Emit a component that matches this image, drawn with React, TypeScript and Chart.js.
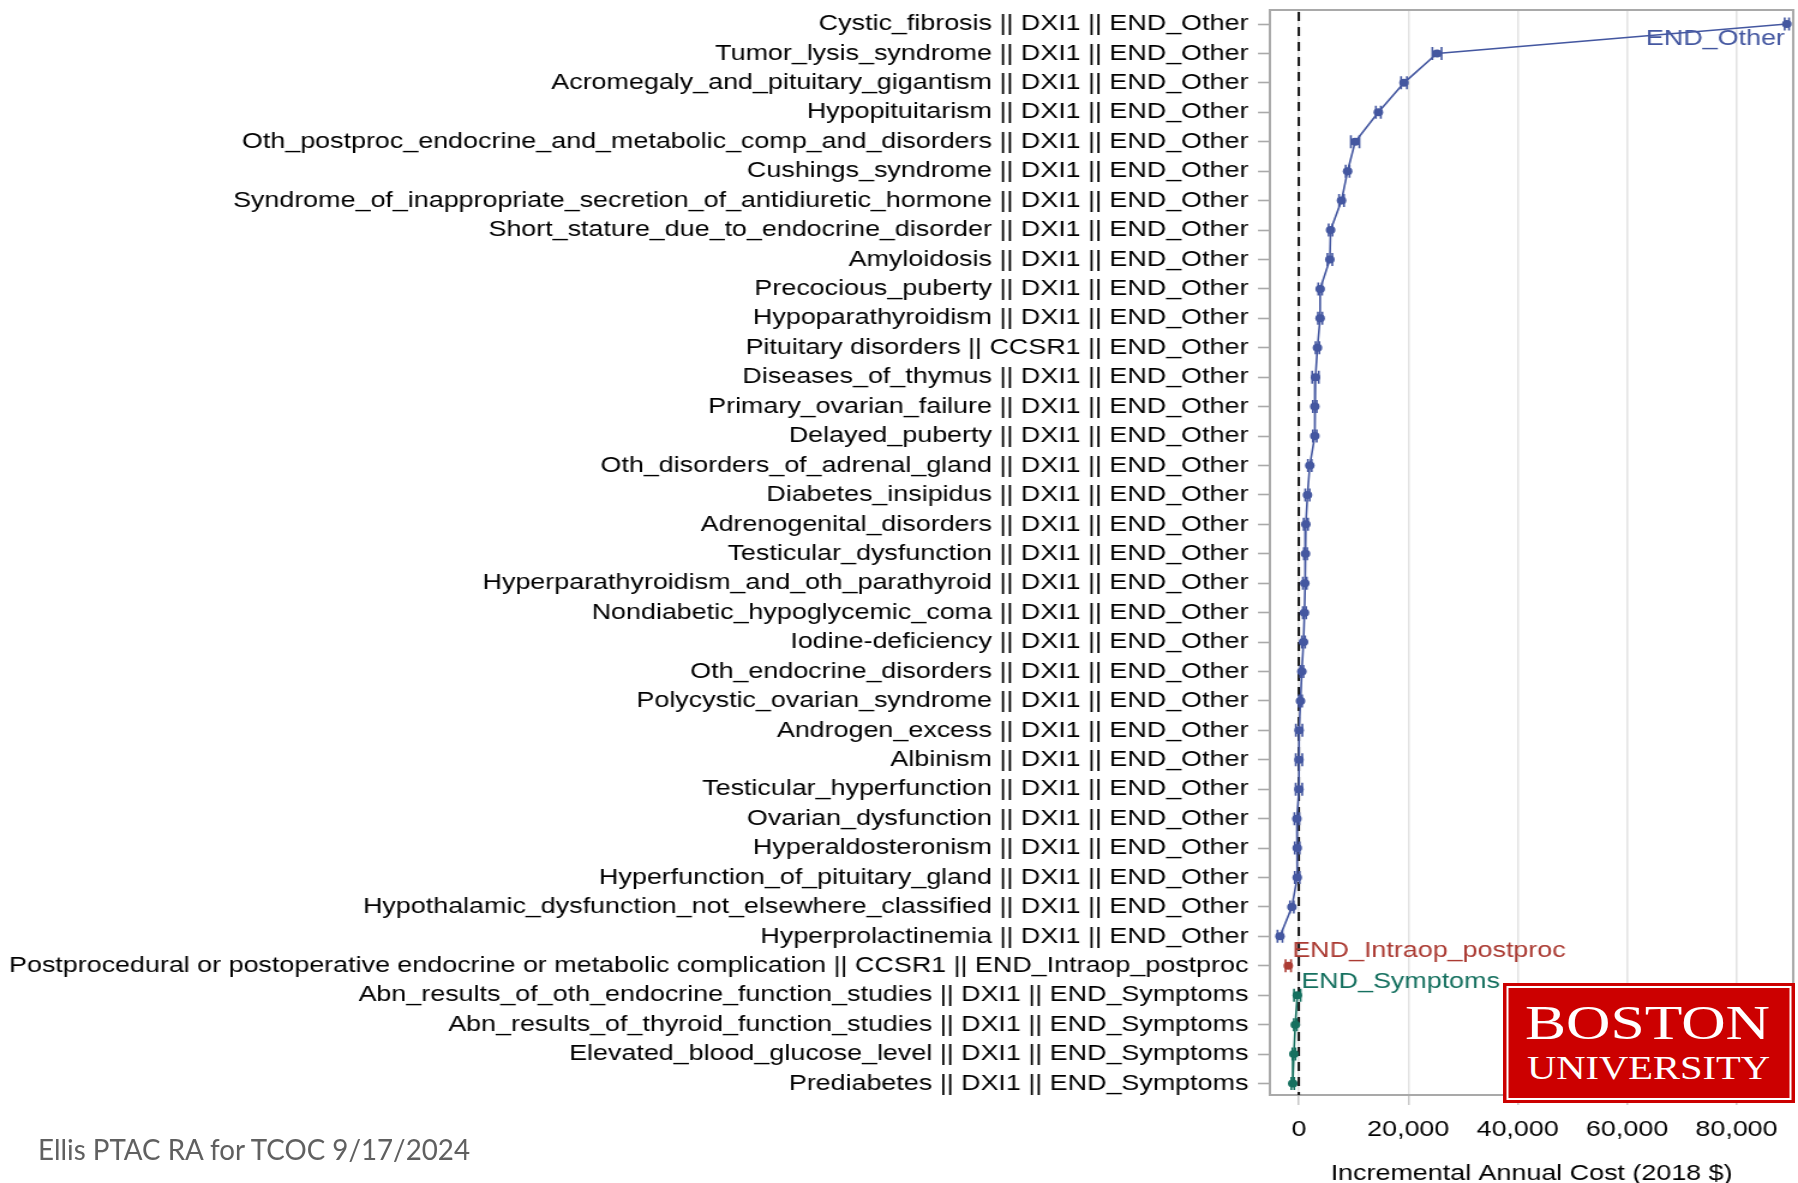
import React, { useEffect, useRef } from 'react';
import { Chart, registerables } from 'chart.js';

Chart.register(...registerables);

// ---------------- data ----------------
const categories: string[] = [
  'Cystic_fibrosis || DXI1 || END_Other',
  'Tumor_lysis_syndrome || DXI1 || END_Other',
  'Acromegaly_and_pituitary_gigantism || DXI1 || END_Other',
  'Hypopituitarism || DXI1 || END_Other',
  'Oth_postproc_endocrine_and_metabolic_comp_and_disorders || DXI1 || END_Other',
  'Cushings_syndrome || DXI1 || END_Other',
  'Syndrome_of_inappropriate_secretion_of_antidiuretic_hormone || DXI1 || END_Other',
  'Short_stature_due_to_endocrine_disorder || DXI1 || END_Other',
  'Amyloidosis || DXI1 || END_Other',
  'Precocious_puberty || DXI1 || END_Other',
  'Hypoparathyroidism || DXI1 || END_Other',
  'Pituitary disorders || CCSR1 || END_Other',
  'Diseases_of_thymus || DXI1 || END_Other',
  'Primary_ovarian_failure || DXI1 || END_Other',
  'Delayed_puberty || DXI1 || END_Other',
  'Oth_disorders_of_adrenal_gland || DXI1 || END_Other',
  'Diabetes_insipidus || DXI1 || END_Other',
  'Adrenogenital_disorders || DXI1 || END_Other',
  'Testicular_dysfunction || DXI1 || END_Other',
  'Hyperparathyroidism_and_oth_parathyroid || DXI1 || END_Other',
  'Nondiabetic_hypoglycemic_coma || DXI1 || END_Other',
  'Iodine-deficiency || DXI1 || END_Other',
  'Oth_endocrine_disorders || DXI1 || END_Other',
  'Polycystic_ovarian_syndrome || DXI1 || END_Other',
  'Androgen_excess || DXI1 || END_Other',
  'Albinism || DXI1 || END_Other',
  'Testicular_hyperfunction || DXI1 || END_Other',
  'Ovarian_dysfunction || DXI1 || END_Other',
  'Hyperaldosteronism || DXI1 || END_Other',
  'Hyperfunction_of_pituitary_gland || DXI1 || END_Other',
  'Hypothalamic_dysfunction_not_elsewhere_classified || DXI1 || END_Other',
  'Hyperprolactinemia || DXI1 || END_Other',
  'Postprocedural or postoperative endocrine or metabolic complication || CCSR1 || END_Intraop_postproc',
  'Abn_results_of_oth_endocrine_function_studies || DXI1 || END_Symptoms',
  'Abn_results_of_thyroid_function_studies || DXI1 || END_Symptoms',
  'Elevated_blood_glucose_level || DXI1 || END_Symptoms',
  'Prediabetes || DXI1 || END_Symptoms',
];

// incremental annual cost estimates (2018 $)
const endOtherValues: number[] = [
  89200, 25250, 19220, 14530, 10290, 8910, 7800, 5800, 5670, 3900,
  3890, 3400, 3040, 2920, 2920, 2000, 1580, 1280, 1220, 1090,
  1030, 850, 550, 300, 50, 30, 20, -360, -300, -300,
  -1270, -3450,
];
const endIntraopValues: number[] = [-1930];
const endSymptomsValues: number[] = [-280, -650, -910, -1110];

// half-widths of the confidence intervals, one per category row
const ciHalfWidths: number[] = [
  400, 840, 530, 450, 780, 350, 450, 350, 450, 350,
  400, 350, 600, 350, 350, 350, 400, 400, 300, 350,
  300, 300, 300, 300, 600, 600, 600, 450, 450, 450,
  350, 450, 500, 600, 270, 270, 270,
];

const xTickValues: number[] = [0, 20000, 40000, 60000, 80000];
const seriesNames: string[] = ['END_Other', 'END_Intraop_postproc', 'END_Symptoms'];
const seriesColors: string[] = ['#4457a0', '#ab3b33', '#15705f'];
const xAxisTitle = 'Incremental Annual Cost (2018 $)';
const footerText = 'Ellis PTAC RA for TCOC 9/17/2024';
const logoLines: string[] = ['BOSTON', 'UNIVERSITY'];

// ---------------- layout / style ----------------
const PAGE_W = 1798;
const PAGE_H = 1183;
const CW = 1498; // canvas drawn narrower, then stretched horizontally like the original picture
const S = PAGE_W / CW;
const FONT = "'Liberation Sans', Arial, sans-serif";
const FS = 22.4;
const AXIS_GREY = '#a9a9a9';

const errorBarPlugin = {
  id: 'errorBars',
  beforeDatasetsDraw(chart: any) {
    const { ctx, chartArea } = chart;
    const xs = chart.scales.x;
    // dashed zero reference line
    ctx.save();
    ctx.strokeStyle = '#111';
    ctx.lineWidth = 2;
    ctx.setLineDash([9, 6]);
    const x0 = xs.getPixelForValue(0);
    ctx.beginPath();
    ctx.moveTo(x0, chartArea.top + 2);
    ctx.lineTo(x0, chartArea.bottom);
    ctx.stroke();
    ctx.restore();

    // frame: top & right edges
    ctx.save();
    ctx.strokeStyle = AXIS_GREY;
    ctx.lineWidth = 2;
    ctx.beginPath();
    ctx.moveTo(chartArea.left, chartArea.top);
    ctx.lineTo(chartArea.right, chartArea.top);
    ctx.lineTo(chartArea.right, chartArea.bottom);
    ctx.stroke();
    ctx.restore();

    // error bars
    chart.data.datasets.forEach((ds: any, di: number) => {
      const meta = chart.getDatasetMeta(di);
      ctx.save();
      ctx.strokeStyle = ds.borderColor;
      ctx.lineWidth = 1.6;
      meta.data.forEach((pt: any, k: number) => {
        const d = ds.data[k];
        if (!d) return;
        const j = d.y;
        const lo = xs.getPixelForValue(d.x - ciHalfWidths[j]);
        const hi = xs.getPixelForValue(d.x + ciHalfWidths[j]);
        const y = pt.y;
        ctx.beginPath();
        ctx.moveTo(lo, y);
        ctx.lineTo(hi, y);
        ctx.moveTo(lo, y - 6.5);
        ctx.lineTo(lo, y + 6.5);
        ctx.moveTo(hi, y - 6.5);
        ctx.lineTo(hi, y + 6.5);
        ctx.stroke();
      });
      ctx.restore();
    });
  },
  afterDatasetsDraw(chart: any) {
    const { ctx } = chart;
    ctx.save();
    ctx.font = `${FS}px ${FONT}`;
    ctx.textBaseline = 'middle';
    // END_Other: below-left of its first point
    const m0 = chart.getDatasetMeta(0).data[0];
    ctx.fillStyle = seriesColors[0];
    ctx.textAlign = 'right';
    ctx.fillText(seriesNames[0], m0.x - 2 / S, m0.y + 15);
    // END_Intraop_postproc: above-right of its point
    const m1 = chart.getDatasetMeta(1).data[0];
    ctx.fillStyle = seriesColors[1];
    ctx.textAlign = 'left';
    ctx.fillText(seriesNames[1], m1.x + 4 / S, m1.y - 14.5);
    // END_Symptoms: above-right of its first point
    const m2 = chart.getDatasetMeta(2).data[0];
    ctx.fillStyle = seriesColors[2];
    ctx.fillText(seriesNames[2], m2.x + 4 / S, m2.y - 13);
    ctx.restore();
  },
};

function ChartCanvas() {
  const ref = useRef<HTMLCanvasElement | null>(null);
  useEffect(() => {
    if (!ref.current) return;
    const nOther = endOtherValues.length;
    const nIntra = endIntraopValues.length;
    const toPts = (vals: number[], start: number) => vals.map((v, i) => ({ x: v, y: start + i }));
    const mk = (data: { x: number; y: number }[], color: string) => ({
      data,
      borderColor: color,
      backgroundColor: color,
      pointBackgroundColor: color,
      pointBorderColor: color,
      pointRadius: 4,
      pointBorderWidth: 0,
      borderWidth: 1.6,
      fill: false,
      tension: 0,
    });
    const chart = new Chart(ref.current, {
      type: 'line',
      data: {
        datasets: [
          mk(toPts(endOtherValues, 0), seriesColors[0]),
          mk(toPts(endIntraopValues, nOther), seriesColors[1]),
          mk(toPts(endSymptomsValues, nOther + nIntra), seriesColors[2]),
        ],
      },
      options: {
        responsive: false,
        animation: false,
        indexAxis: 'y',
        layout: { padding: { top: 10, right: CW - 1796 / S, bottom: 0, left: 0 } },
        plugins: { legend: { display: false }, tooltip: { enabled: false } },
        scales: {
          y: {
            type: 'linear',
            reverse: true,
            min: -0.476,
            max: 36.39,
            afterBuildTicks: (s: any) => {
              s.ticks = categories.map((_, i) => ({ value: i }));
            },
            grid: {
              display: true,
              drawOnChartArea: false,
              drawTicks: true,
              tickLength: 10,
              tickColor: AXIS_GREY,
              tickWidth: 1.6,
            },
            border: { display: true, color: AXIS_GREY, width: 2 },
            ticks: {
              autoSkip: false,
              color: '#000',
              padding: 8,
              font: { family: FONT, size: FS },
              callback: (v: any) => categories[Math.round(Number(v))] ?? '',
            },
            afterFit: (s: any) => {
              s.width = 1270 / S;
              s.paddingTop = 0;
              s.paddingBottom = 0;
            },
          },
          x: {
            type: 'linear',
            min: -5270,
            max: 90360,
            afterBuildTicks: (s: any) => {
              s.ticks = xTickValues.map((v) => ({ value: v }));
            },
            grid: {
              color: '#e2e2e2',
              lineWidth: 1.5,
              drawTicks: true,
              tickLength: 10,
              tickColor: '#c8c8c8',
            },
            border: { display: true, color: AXIS_GREY, width: 2 },
            ticks: {
              color: '#000',
              padding: 11.5,
              font: { family: FONT, size: FS },
              callback: (v: any) => Number(v).toLocaleString('en-US'),
            },
            title: {
              display: true,
              text: xAxisTitle,
              color: '#000',
              font: { family: FONT, size: FS },
              padding: { top: 0, bottom: -4.3 },
            },
            afterFit: (s: any) => {
              s.height = PAGE_H - 1095;
              s.paddingLeft = 0;
              s.paddingRight = 0;
            },
          },
        },
      } as any,
      plugins: [errorBarPlugin],
    });
    return () => chart.destroy();
  }, []);
  return <canvas ref={ref} width={CW} height={PAGE_H} style={{ display: 'block' }} />;
}

export default function App() {
  return (
    <div
      style={{
        position: 'fixed',
        left: 0,
        top: 0,
        width: PAGE_W,
        height: PAGE_H,
        overflow: 'hidden',
        background: '#fff',
      }}
    >
      <div
        style={{
          position: 'absolute',
          left: 0,
          top: 0,
          width: CW,
          height: PAGE_H,
          transform: `scaleX(${S})`,
          transformOrigin: '0 0',
        }}
      >
        <ChartCanvas />
      </div>
      <svg
        width={PAGE_W}
        height={PAGE_H}
        style={{ position: 'absolute', left: 0, top: 0, pointerEvents: 'none' }}
      >
        <text
          x={38}
          y={1160}
          fontFamily="Lato, 'Open Sans', sans-serif"
          fontSize={29}
          fill="#606060"
          textLength={432}
          lengthAdjust="spacingAndGlyphs"
        >
          {footerText}
        </text>
        <g transform="translate(1503,983)">
          <rect x={0} y={0} width={292} height={120} fill="#cc0000" />
          <rect x={4.5} y={4} width={283} height={112} fill="none" stroke="#ffffff" strokeWidth={2} />
          <text
            x={22}
            y={55.5}
            fontFamily="'Liberation Serif', 'DejaVu Serif', serif"
            fontSize={48}
            fill="#ffffff"
            textLength={245}
            lengthAdjust="spacingAndGlyphs"
          >
            {logoLines[0]}
          </text>
          <text
            x={24}
            y={95.5}
            fontFamily="'Liberation Serif', 'DejaVu Serif', serif"
            fontSize={33}
            fill="#ffffff"
            textLength={243}
            lengthAdjust="spacingAndGlyphs"
          >
            {logoLines[1]}
          </text>
        </g>
      </svg>
    </div>
  );
}
